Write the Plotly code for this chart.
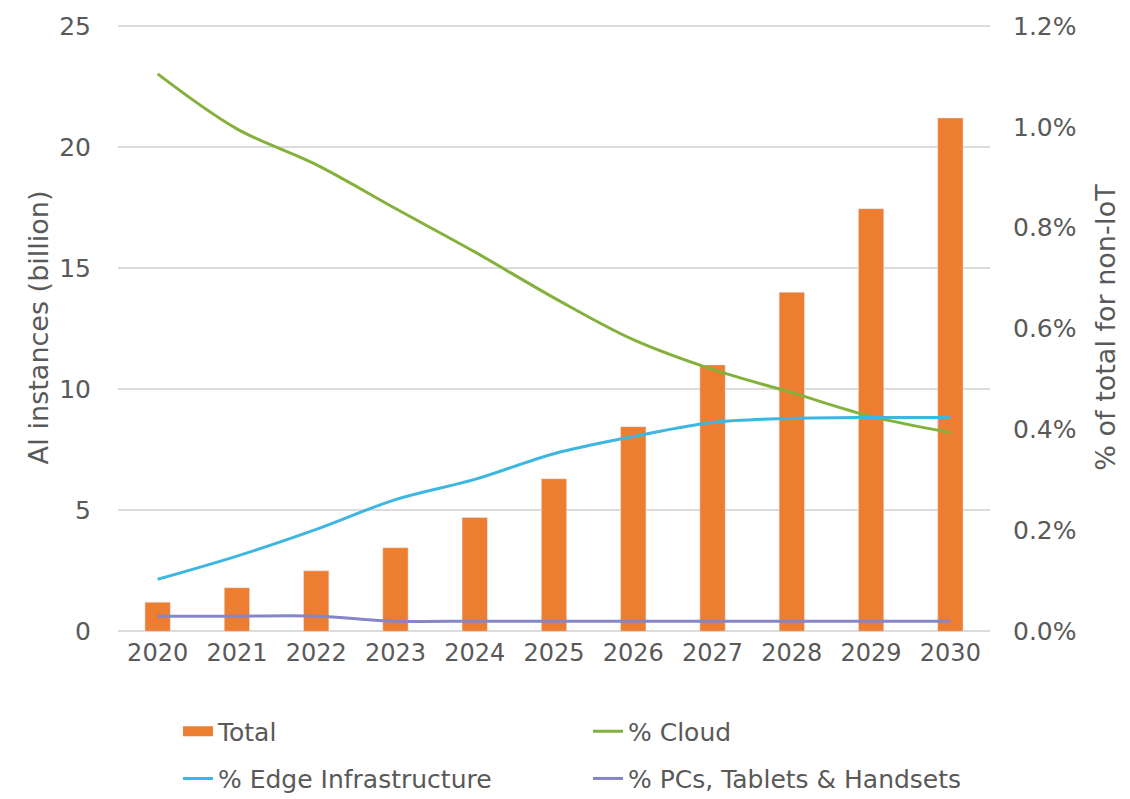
import plotly.graph_objects as go

years = ["2020", "2021", "2022", "2023", "2024", "2025", "2026", "2027", "2028", "2029", "2030"]
total = [1.2, 1.8, 2.5, 3.45, 4.7, 6.3, 8.45, 11.0, 14.0, 17.45, 21.2]
cloud = [1.105, 0.996, 0.925, 0.838, 0.752, 0.661, 0.578, 0.519, 0.473, 0.426, 0.394]
edge = [0.103, 0.149, 0.202, 0.261, 0.301, 0.352, 0.386, 0.414, 0.422, 0.424, 0.424]
pcs = [0.030, 0.030, 0.030, 0.020, 0.020, 0.020, 0.020, 0.020, 0.020, 0.020, 0.020]

FONT = "DejaVu Sans"
TXT = "#595959"
ORANGE = "#ED7D31"
GRID = "#DCDCDC"

Y1 = [-0.03, 25.12]
Y2 = [Y1[0] / 25 * 0.012, Y1[1] / 25 * 0.012]

fig = go.Figure()
fig.add_trace(go.Bar(x=years, y=total, name="Total", marker_color=ORANGE,
                     width=0.32, legendgroup="total", showlegend=False))
# legend entry for the bars (wide rectangle swatch like the original)
fig.add_trace(go.Scatter(x=[None], y=[None], name="Total", mode="lines",
                         line=dict(color=ORANGE, width=14), legendgroup="total",
                         legend="legend"))
fig.add_trace(go.Scatter(x=years, y=[v / 100 for v in cloud], name="% Cloud", yaxis="y2",
                         mode="lines", line=dict(color="#84B13C", width=3, shape="spline"),
                         legend="legend"))
fig.add_trace(go.Scatter(x=years, y=[v / 100 for v in edge], name="% Edge Infrastructure", yaxis="y2",
                         mode="lines", line=dict(color="#3DB6E2", width=3, shape="spline"),
                         legend="legend2"))
fig.add_trace(go.Scatter(x=years, y=[v / 100 for v in pcs], name="% PCs, Tablets & Handsets", yaxis="y2",
                         mode="lines", line=dict(color="#8585C8", width=3, shape="spline"),
                         legend="legend2"))

fig.update_layout(
    width=1130, height=799,
    margin=dict(l=118, r=140, t=23, b=167, autoexpand=False),
    paper_bgcolor="white", plot_bgcolor="white",
    font=dict(family=FONT, size=24, color=TXT),
    xaxis=dict(type="category", showgrid=False, zeroline=False, showline=False,
               ticks="", tickfont=dict(size=24, color=TXT), ticklabelstandoff=4),
    yaxis=dict(range=Y1, tick0=0, dtick=5, showgrid=True, gridcolor=GRID, gridwidth=1.5,
               zeroline=True, zerolinecolor=GRID, zerolinewidth=1.5,
               showline=False, ticks="", ticklabelstandoff=26,
               title=dict(text="AI instances (billion)", standoff=2, font=dict(size=27, color=TXT)),
               tickfont=dict(size=25, color=TXT)),
    yaxis2=dict(range=Y2, tick0=0, dtick=0.002, tickformat=".1%", overlaying="y", side="right",
                showgrid=False, zeroline=False, showline=False, ticks="", ticklabelstandoff=22,
                title=dict(text="% of total for non-IoT", standoff=20, font=dict(size=27, color=TXT)),
                tickfont=dict(size=25, color=TXT)),
    legend=dict(orientation="h", x=0.0688, y=-0.1634, xanchor="left", yanchor="middle",
                entrywidth=365, font=dict(size=25, color=TXT), bgcolor="rgba(0,0,0,0)"),
    legend2=dict(orientation="h", x=0.0688, y=-0.2409, xanchor="left", yanchor="middle",
                 entrywidth=365, font=dict(size=25, color=TXT), bgcolor="rgba(0,0,0,0)"),
    showlegend=True,
)

fig.write_html("out.html")
